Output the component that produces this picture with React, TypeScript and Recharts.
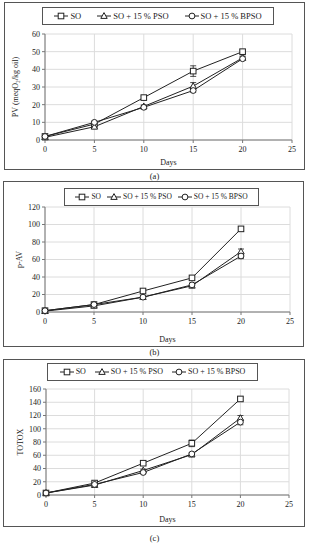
import React from "react";
import { LineChart, Line, XAxis, YAxis, CartesianGrid, Legend, ErrorBar } from "recharts";

const DAYS = [0, 5, 10, 15, 20];
const X_TICKS = [0, 5, 10, 15, 20, 25];

// (a) peroxide value
const PV_SO = [2, 9, 24, 39, 50];
const PV_PSO = [1.5, 7.5, 19, 30.5, 46.5];
const PV_BPSO = [2, 10, 18.5, 28, 46];
const PV_SO_ERR = [0.3, 0.5, 0.8, 3, 1];
const PV_PSO_ERR = [0.2, 0.5, 0.8, 2, 1];
const PV_BPSO_ERR = [0.2, 0.5, 0.8, 1, 1];

// (b) p-anisidine value
const AV_SO = [1.5, 8.5, 24, 39, 95];
const AV_PSO = [1, 7, 17, 30, 69];
const AV_BPSO = [1.5, 8.5, 17, 31, 64];
const AV_SO_ERR = [0.5, 1, 1.5, 2, 2];
const AV_PSO_ERR = [0.5, 1, 1, 2, 3];
const AV_BPSO_ERR = [0.5, 1, 1, 2, 3];

// (c) TOTOX
const TX_SO = [3, 18, 48, 78, 145];
const TX_PSO = [3, 15, 37, 61, 116];
const TX_BPSO = [3, 16, 34, 62, 110];
const TX_SO_ERR = [0.5, 1, 2, 5, 3];
const TX_PSO_ERR = [0.5, 1, 2, 2, 4];
const TX_BPSO_ERR = [0.5, 1, 2, 2, 4];

const SERIES = ["SO", "SO + 15 % PSO", "SO + 15 % BPSO"];

const FONT = "'Liberation Serif', 'DejaVu Serif', serif";
const INK = "#222";

const buildData = (so: number[], pso: number[], bpso: number[], e1: number[], e2: number[], e3: number[]) =>
  DAYS.map((d, i) => ({ day: d, so: so[i], pso: pso[i], bpso: bpso[i], soErr: e1[i], psoErr: e2[i], bpsoErr: e3[i] }));

const SquareShape = ({ cx, cy }: { cx: number; cy: number }) => (
  <rect x={cx - 2.8} y={cy - 2.8} width={5.6} height={5.6} fill="#fff" stroke={INK} strokeWidth={1} />
);
const TriangleShape = ({ cx, cy }: { cx: number; cy: number }) => (
  <polygon points={`${cx},${cy - 3.4} ${cx + 3.2},${cy + 2.4} ${cx - 3.2},${cy + 2.4}`} fill="#fff" stroke={INK} strokeWidth={1} />
);
const CircleShape = ({ cx, cy }: { cx: number; cy: number }) => (
  <circle cx={cx} cy={cy} r={2.9} fill="#fff" stroke={INK} strokeWidth={1} />
);

const SHAPES = [SquareShape, TriangleShape, CircleShape];

const dotFor = (idx: number) => (p: any) => {
  const S = SHAPES[idx];
  if (p.cx == null || p.cy == null) return <g key={p.index} />;
  return (
    <g key={`d-${idx}-${p.index}`}>
      <S cx={p.cx} cy={p.cy} />
    </g>
  );
};

const LegendBox = ({ width, gap, fontSize }: { width: number; gap: number; fontSize: number }) => (
  <div
    style={{
      width,
      boxSizing: "border-box",
      border: "1px solid #555",
      background: "#fff",
      display: "flex",
      justifyContent: "center",
      gap,
      padding: "3px 0",
      fontFamily: FONT,
      fontSize,
      color: INK,
      lineHeight: "10px",
    }}
  >
    {SERIES.map((name, i) => {
      const S = SHAPES[i];
      return (
        <span key={name} style={{ display: "flex", alignItems: "center", whiteSpace: "nowrap" }}>
          <svg width={14} height={8} style={{ marginRight: 2 }}>
            <line x1={0} y1={4} x2={14} y2={4} stroke={INK} strokeWidth={1} />
            <S cx={7} cy={4} />
          </svg>
          {name}
        </span>
      );
    })}
  </div>
);

type PanelProps = {
  data: any[];
  left: number;
  top: number;
  width: number;
  height: number;
  margin: { top: number; right: number; left: number; bottom: number };
  xAxisHeight: number;
  yMax: number;
  yTicks: number[];
  yLabel: string;
  yLabelOffset: number;
  legendLeft: number;
  legendTop: number;
  legendWidth: number;
  legendGap: number;
  legendFont: number;
  caption: string;
  captionTop: number;
};

const Panel = (p: PanelProps) => {
  const keys = ["so", "pso", "bpso"];
  return (
    <>
      <div
        style={{
          position: "absolute",
          left: p.left,
          top: p.top,
          width: p.width,
          height: p.height,
          border: "1px solid #555",
          background: "#fff",
        }}
      >
        <LineChart width={p.width} height={p.height} data={p.data} margin={p.margin}>
          <CartesianGrid stroke="#dcdcdc" strokeWidth={1} />
          <XAxis
            dataKey="day"
            type="number"
            domain={[0, 25]}
            ticks={X_TICKS}
            interval={0}
            height={p.xAxisHeight}
            stroke="#777"
            tickSize={3}
            tickMargin={3}
            tick={{ fill: INK, fontSize: 8, fontFamily: FONT }}
            label={{ value: "Days", position: "insideBottom", offset: 4, fill: INK, fontSize: 8, fontFamily: FONT }}
          />
          <YAxis
            type="number"
            domain={[0, p.yMax]}
            ticks={p.yTicks}
            interval={0}
            width={30}
            stroke="#777"
            tickSize={3}
            tickMargin={2}
            tick={{ fill: INK, fontSize: 8, fontFamily: FONT }}
            label={{
              value: p.yLabel,
              angle: -90,
              position: "insideLeft",
              offset: p.yLabelOffset,
              fill: INK,
              fontSize: 8,
              fontFamily: FONT,
              style: { textAnchor: "middle" },
            }}
          />
          <Legend
            layout="horizontal"
            verticalAlign="middle"
            align="center"
            wrapperStyle={{ left: p.legendLeft, top: p.legendTop, width: p.legendWidth }}
            content={() => <LegendBox width={p.legendWidth} gap={p.legendGap} fontSize={p.legendFont} />}
          />
          {keys.map((k, i) => (
            <Line
              key={k}
              type="linear"
              dataKey={k}
              name={SERIES[i]}
              stroke={INK}
              strokeWidth={1}
              dot={dotFor(i)}
              activeDot={false}
              isAnimationActive={false}
            >
              <ErrorBar dataKey={`${k}Err`} width={3} stroke={INK} strokeWidth={0.8} />
            </Line>
          ))}
        </LineChart>
      </div>
      <div
        style={{
          position: "absolute",
          left: 0,
          width: 309,
          top: p.captionTop,
          textAlign: "center",
          fontFamily: FONT,
          fontSize: 8.5,
          color: INK,
        }}
      >
        {p.caption}
      </div>
    </>
  );
};

export default function App() {
  const pv = buildData(PV_SO, PV_PSO, PV_BPSO, PV_SO_ERR, PV_PSO_ERR, PV_BPSO_ERR);
  const av = buildData(AV_SO, AV_PSO, AV_BPSO, AV_SO_ERR, AV_PSO_ERR, AV_BPSO_ERR);
  const tx = buildData(TX_SO, TX_PSO, TX_BPSO, TX_SO_ERR, TX_PSO_ERR, TX_BPSO_ERR);
  return (
    <div style={{ position: "absolute", left: 0, top: 0, width: 309, height: 550, background: "#fff" }}>
      <Panel
        data={pv}
        left={4}
        top={2}
        width={299}
        height={166}
        margin={{ top: 31, right: 12, left: 10, bottom: 0 }}
        xAxisHeight={29}
        yMax={60}
        yTicks={[0, 10, 20, 30, 40, 50, 60]}
        yLabel="PV (meqO₂/kg oil)"
        yLabelOffset={0}
        legendLeft={37}
        legendTop={4}
        legendWidth={232}
        legendGap={16}
        legendFont={8.5}
        caption="(a)"
        captionTop={171}
      />
      <Panel
        data={av}
        left={3}
        top={181}
        width={299}
        height={164}
        margin={{ top: 25, right: 13, left: 11, bottom: 0 }}
        xAxisHeight={34}
        yMax={120}
        yTicks={[0, 20, 40, 60, 80, 100, 120]}
        yLabel="p-AV"
        yLabelOffset={4}
        legendLeft={60}
        legendTop={6}
        legendWidth={195}
        legendGap={6}
        legendFont={7.5}
        caption="(b)"
        captionTop={347}
      />
      <Panel
        data={tx}
        left={3}
        top={359}
        width={300}
        height={166}
        margin={{ top: 29, right: 15, left: 12, bottom: 0 }}
        xAxisHeight={31}
        yMax={160}
        yTicks={[0, 20, 40, 60, 80, 100, 120, 140, 160]}
        yLabel="TOTOX"
        yLabelOffset={4}
        legendLeft={43}
        legendTop={3}
        legendWidth={211}
        legendGap={9}
        legendFont={8}
        caption="(c)"
        captionTop={533}
      />
    </div>
  );
}
